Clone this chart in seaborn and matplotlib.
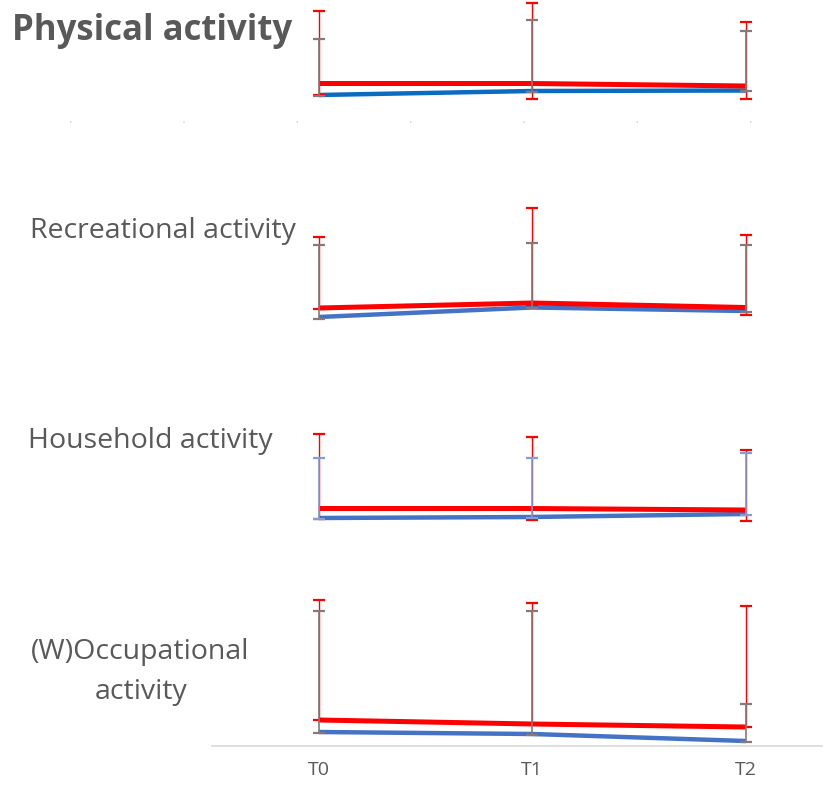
import matplotlib
matplotlib.use("Agg")
import matplotlib.pyplot as plt
from matplotlib.lines import Line2D
import numpy as np
import pandas as pd
import seaborn as sns

# ---------------- data (heights above each panel's baseline) ----------------
times = ["T0", "T1", "T2"]

# Physical activity
pa_red = [16.5, 16.5, 14.0]
pa_red_hi = [89, 97, 78]
pa_red_lo = [5, 1, 1]
pa_blue = [5.0, 9.0, 9.5]
pa_blue_hi = [61, 80, 69]
pa_blue_lo = [4.5, 8.5, 9.0]

# Recreational activity
rec_red = [12.0, 17.0, 12.5]
rec_red_hi = [83, 112, 85.5]
rec_red_lo = [11, 15, 5.5]
rec_blue = [3.0, 12.5, 9.0]
rec_blue_hi = [75.5, 77, 75.5]
rec_blue_lo = [1, 12, 8]

# Household activity
hh_red = [16.5, 16.5, 15.0]
hh_red_hi = [91, 88, 75]
hh_red_lo = [6, 5.5, 4]
hh_blue = [7.0, 8.0, 11.0]
hh_blue_hi = [67, 67, 72]
hh_blue_lo = [6.5, 7.5, 10.5]

# (W)Occupational activity
occ_red = [26.0, 22.0, 19.0]
occ_red_hi = [146, 143, 140]
occ_red_lo = [26.0, 22.0, 19.0]
occ_blue = [14.0, 12.0, 5.0]
occ_blue_hi = [135, 135, 42]
occ_blue_lo = [13, 11.5, 4.5]

W, H = 823, 785
fig = plt.figure(figsize=(W / 100, H / 100), dpi=100)
sns.set_style("white")
plt.rcParams["font.family"] = ["Open Sans", "DejaVu Sans"]

TXT = "#595959"
RED = "#FF0000"
GRAY_ERR = "#857A7A"

panels = [
    # top px, bottom px, red, red_hi, red_lo, blue, blue_hi, blue_lo, blue colour, blue err colour
    (0, 100, pa_red, pa_red_hi, pa_red_lo, pa_blue, pa_blue_hi, pa_blue_lo, "#0A6CC0", GRAY_ERR),
    (195, 320, rec_red, rec_red_hi, rec_red_lo, rec_blue, rec_blue_hi, rec_blue_lo, "#4472C4", GRAY_ERR),
    (425, 525, hh_red, hh_red_hi, hh_red_lo, hh_blue, hh_blue_hi, hh_blue_lo, "#4472C4", "#7F9FD8"),
    (595, 746, occ_red, occ_red_hi, occ_red_lo, occ_blue, occ_blue_hi, occ_blue_lo, "#4472C4", GRAY_ERR),
]

x_left, x_right = 212, W
band = 213.5
xlim = (-0.5, -0.5 + (x_right - x_left) / band)
xpos = np.arange(len(times))

axes = []
for i, (top, bot, r, rhi, rlo, b, bhi, blo, bcol, becol) in enumerate(panels):
    ax = fig.add_axes([x_left / W, 1 - bot / H, (x_right - x_left) / W, (bot - top) / H])
    axes.append(ax)
    df = pd.DataFrame({"x": np.concatenate([xpos, xpos]),
                       "y": np.array(list(b) + list(r), dtype=float),
                       "s": ["blue"] * 3 + ["red"] * 3})
    sns.lineplot(data=df, x="x", y="y", hue="s", palette={"blue": bcol, "red": RED},
                 size="s", sizes={"blue": 3.2, "red": 3.6},
                 ax=ax, legend=False, estimator=None, sort=False)
    for ln in ax.lines:
        ln.set_solid_capstyle("butt")
        ln.set_clip_on(False)
    r = np.array(r, float); b = np.array(b, float)
    r_err = np.clip([r - np.array(rlo), np.array(rhi) - r], 0, None)
    b_err = np.clip([b - np.array(blo), np.array(bhi) - b], 0, None)
    ax.errorbar(xpos, r, yerr=r_err, fmt="none",
                ecolor=RED, elinewidth=1.0, capsize=4, capthick=1.6, zorder=4, clip_on=False)
    ax.errorbar(xpos, b, yerr=b_err, fmt="none",
                ecolor=becol, elinewidth=1.2, capsize=4, capthick=1.6, zorder=5, clip_on=False)
    ax.set_xlim(*xlim)
    ax.set_ylim(0, bot - top)
    ax.set_facecolor("none")
    ax.set_xlabel("")
    ax.set_ylabel("")
    ax.set_yticks([])
    for sp in ax.spines.values():
        sp.set_visible(False)
    if i < 3:
        ax.set_xticks([])

# bottom axis
ax = axes[-1]
ax.spines["bottom"].set_visible(True)
ax.spines["bottom"].set_color("#D9D9D9")
ax.spines["bottom"].set_linewidth(1.2)
ax.set_xticks([-0.5, 0.5, 1.5])
ax.set_xticklabels([])
ax.tick_params(axis="x", which="major", direction="out", length=4.5, width=1.2, color="#D9D9D9")
ax.set_xticks(xpos, minor=True)
ax.set_xticklabels(times, minor=True)
ax.tick_params(axis="x", which="minor", length=0, pad=11, labelsize=14, labelcolor=TXT)

# faint dotted remnants of a cropped axis under the first panel
fig.add_artist(Line2D([70 / W, 1.0], [1 - 122 / H] * 2, transform=fig.transFigure,
                      color="#D0D0D0", lw=1.2, dashes=(0.8, 67.2)))

# text labels
fig.text(12 / W, 1 - 31 / H, "Physical activity", fontsize=25, fontweight="bold",
         color=TXT, va="center", ha="left")
fig.text(30 / W, 1 - 231 / H, "Recreational activity", fontsize=20.5, color=TXT,
         va="center", ha="left")
fig.text(28 / W, 1 - 441 / H, "Household activity", fontsize=20.5, color=TXT,
         va="center", ha="left")
fig.text(140 / W, 1 - 652 / H, "(W)Occupational", fontsize=20.5, color=TXT,
         va="center", ha="center")
fig.text(141 / W, 1 - 692 / H, "activity", fontsize=20.5, color=TXT,
         va="center", ha="center")

fig.savefig("out.png", dpi=100)
